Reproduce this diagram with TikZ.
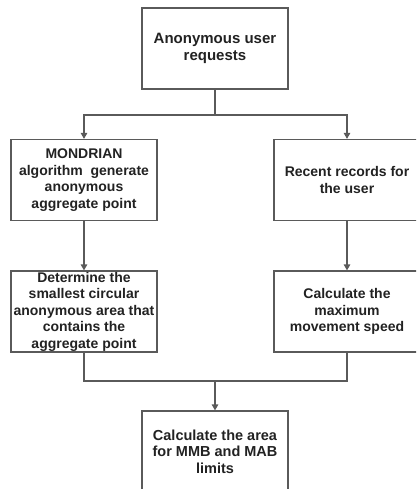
\documentclass[tikz,border=0pt]{standalone}
\usepackage{fontspec}
\setmainfont{Liberation Sans}
\usetikzlibrary{arrows.meta}
\definecolor{linegray}{HTML}{5A5A5A}
\definecolor{textdark}{HTML}{222222}
\begin{document}
\begin{tikzpicture}[x=1pt,y=-1pt,
  box/.style={draw=linegray, line width=1.2pt, fill=white, minimum width=146pt, minimum height=81pt,
    inner sep=0pt, align=center, text=textdark,
    font=\fontsize{14}{16.5}\selectfont\bfseries},
  bigbox/.style={box, font=\fontsize{15}{16.5}\selectfont\bfseries},
  midbox/.style={box, font=\fontsize{14.5}{16.5}\selectfont\bfseries},
  conn/.style={draw=linegray, line width=1.2pt},
  arr/.style={conn, -{Triangle[width=6.5pt,length=6pt]}}]
\useasboundingbox (0,0) rectangle (416,489);
\clip (0,0) rectangle (416,489);
\node[bigbox] (top) at (215,48.5) {Anonymous user\\requests};
\node[box] (mond) at (84,180) {MONDRIAN\\algorithm\ \ generate\\anonymous\\aggregate point};
\node[box] (rec) at (347,180) {Recent records for\\the user};
\node[box] (det) at (84,311.5) {Determine the\\smallest circular\\anonymous area that\\contains the\\aggregate point};
\node[box] (calc) at (347,311.5) {Calculate the\\maximum\\movement speed};
\node[midbox] (area) at (215,451.5) {Calculate the area\\for MMB and MAB\\limits};
\coordinate (split) at (215,115);
\coordinate (merge) at (215,381);
\draw[conn] (top.south) -- (split);
\draw[arr] (split) -| (mond.north);
\draw[arr] (split) -| (rec.north);
\draw[arr] (mond.south) -- (det.north);
\draw[arr] (rec.south) -- (calc.north);
\draw[conn] (det.south) |- (merge);
\draw[conn] (calc.south) |- (merge);
\draw[arr] (merge) -- (area.north);
\end{tikzpicture}
\end{document}
